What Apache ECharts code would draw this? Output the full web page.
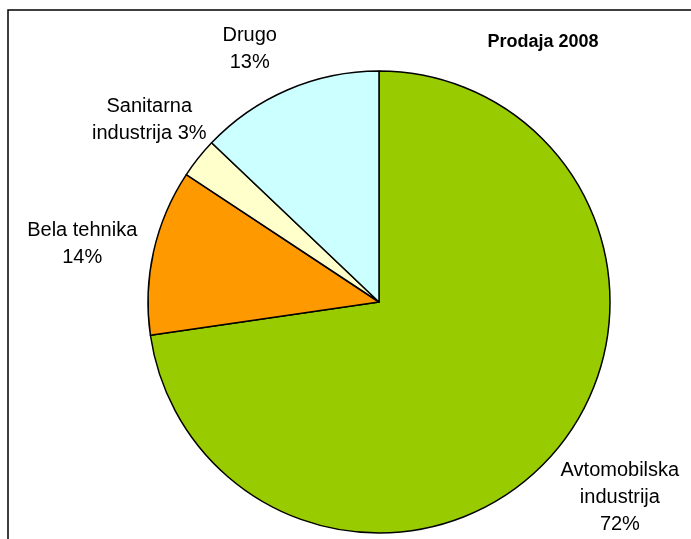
<!DOCTYPE html>
<html><head><meta charset="utf-8">
<script src="https://cdn.jsdelivr.net/npm/echarts@6/dist/echarts.min.js"></script>
<style>html,body{margin:0;padding:0;background:#fff}#c{width:691px;height:539px}</style>
</head><body><div id="c"></div>
<script>
const categories = ['Avtomobilska industrija', 'Bela tehnika', 'Sanitarna industrija', 'Drugo'];
const values = [72.7, 11.6, 2.8, 12.9];
const labelTexts = ['Avtomobilska\nindustrija\n72%', 'Bela tehnika\n14%', 'Sanitarna\nindustrija 3%', 'Drugo\n13%'];
const colors = ['#99CC00', '#FF9900', '#FFFFCC', '#CCFFFF'];
const titleText = 'Prodaja 2008';

const labelOffsets = [[14, -1], [-4, 7], [5, 5], [-11, 23]];
const chart = echarts.init(document.getElementById('c'), null, {renderer: 'canvas'});
const pieData = categories.map((c, i) => ({name: c, value: values[i], itemStyle: {color: colors[i]}}));
const labelData = categories.map((c, i) => ({name: c, value: values[i], label: {offset: labelOffsets[i]}}));
chart.setOption({
  animation: false,
  backgroundColor: '#ffffff',
  title: {
    text: titleText, left: 538, top: 28, textAlign: 'center',
    textStyle: {fontFamily: 'Liberation Sans, Arial', fontWeight: 'bold', fontSize: 18, color: '#000'}
  },
  graphic: [{
    type: 'rect', shape: {x: 8, y: 10, width: 700, height: 560},
    style: {fill: 'none', stroke: '#000', lineWidth: 1.5}, silent: true, z: 0
  }],
  series: [{
    type: 'pie', center: [379, 302], radius: [0, 231], startAngle: 90, clockwise: true,
    data: pieData, label: {show: false}, labelLine: {show: false},
    itemStyle: {borderColor: '#000', borderWidth: 1.5},
    emphasis: {disabled: true}, silent: true, z: 2
  }, {
    type: 'pie', center: [379, 302], radius: [231, 363], startAngle: 90, clockwise: true,
    data: labelData, silent: true, z: 3,
    itemStyle: {color: 'rgba(0,0,0,0)', borderWidth: 0},
    emphasis: {disabled: true},
    labelLine: {show: false},
    label: {
      show: true, position: 'inside', rotate: 0,
      formatter: p => labelTexts[p.dataIndex],
      fontFamily: 'Liberation Sans, Arial', fontSize: 20, lineHeight: 27, color: '#000', align: 'center'
    }
  }]
});
</script></body></html>
